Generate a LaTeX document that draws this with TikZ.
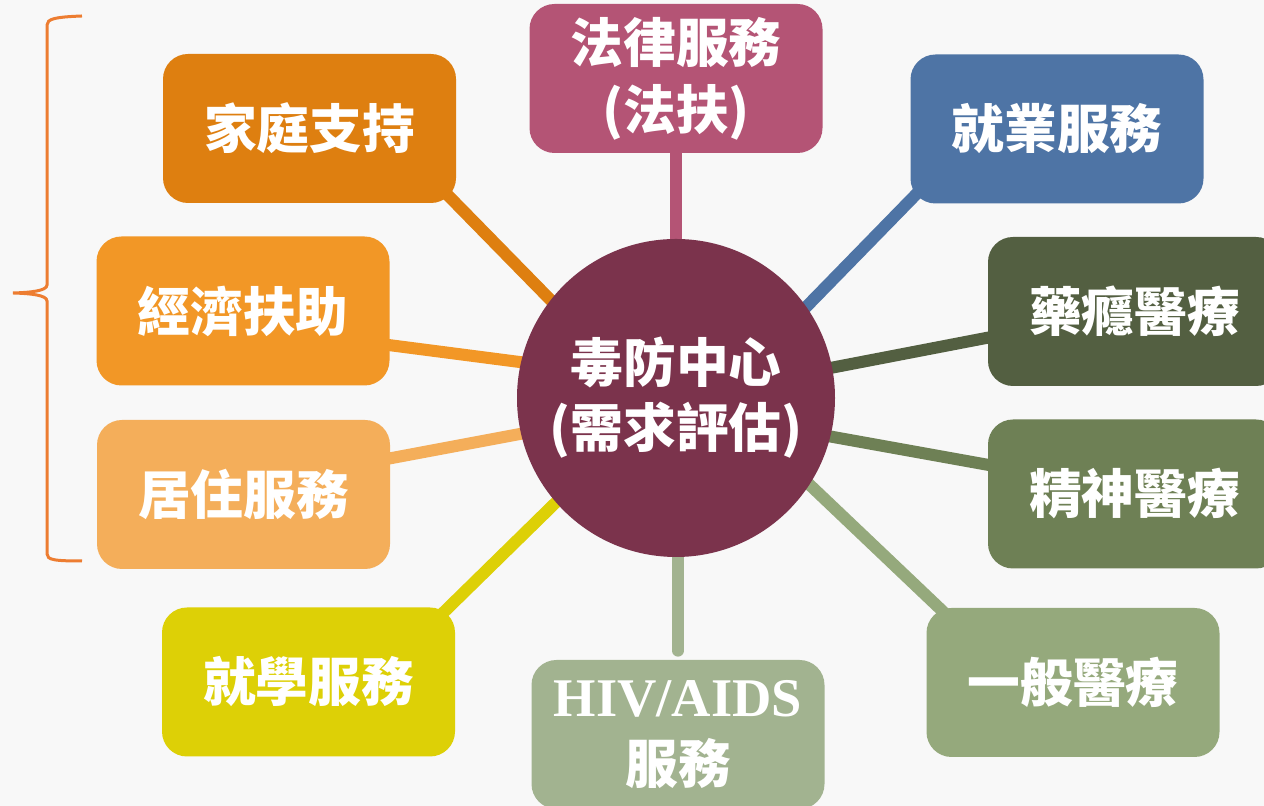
\documentclass[tikz,border=0pt]{standalone}
\usepackage{fontspec}
\setmainfont{Liberation Serif}
\newfontfamily\cjk{Noto Sans CJK TC}
\usepackage{tikz}
\usetikzlibrary{calc}
\definecolor{paper}{HTML}{F8F8F8}
\definecolor{famc}{HTML}{DE7F10}
\definecolor{finc}{HTML}{F29726}
\definecolor{housc}{HTML}{F4AE5A}
\definecolor{schc}{HTML}{DDD006}
\definecolor{legc}{HTML}{B45475}
\definecolor{empc}{HTML}{4E74A5}
\definecolor{addc}{HTML}{535F41}
\definecolor{psyc}{HTML}{6E8055}
\definecolor{genc}{HTML}{95A97C}
\definecolor{hivc}{HTML}{A2B390}
\definecolor{corec}{HTML}{7B334C}
\definecolor{bracec}{HTML}{ED7D31}
\pgfdeclarelayer{bg}
\pgfdeclarelayer{edges}
\pgfsetlayers{bg,edges,main}
\tikzstyle{block} = [rectangle, rounded corners=0.5cm, minimum width=5.86cm, minimum height=2.98cm, inner sep=0pt, align=center, text=white, font={\cjk\bfseries\fontsize{30}{38}\selectfont}]
\tikzstyle{core} = [circle, fill=corec, minimum size=6.36cm, inner sep=0pt, align=center, text=white, font={\cjk\bfseries\fontsize{30}{37}\selectfont}]
\tikzstyle{link} = [line width=0.24cm]

\begin{document}
\begin{tikzpicture}

    \useasboundingbox (0,0) rectangle (25.28,16.12);
    \begin{pgfonlayer}{bg}
        \fill[paper] (0,0) rectangle (25.28,16.12);
    \end{pgfonlayer}

    \node[core] (hub) at (13.52,8.16) {毒防中心\\(需求評估)};

    \node[block, fill=famc] (family) at (6.19,13.55) {家庭支持};
    \node[block, fill=finc] (finance) at (4.86,9.90) {經濟扶助};
    \node[block, fill=housc] (housing) at (4.87,6.23) {居住服務};
    \node[block, fill=schc] (school) at (6.17,2.48) {就學服務};
    \node[block, fill=legc] (legal) at (13.52,14.55) {法律服務\\(法扶)};
    \node[block, fill=empc] (employ) at (21.14,13.54) {就業服務};
    \node[block, fill=addc] (addict) at (22.69,9.89) {藥癮醫療};
    \node[block, fill=psyc] (psych) at (22.69,6.24) {精神醫療};
    \node[block, fill=genc] (general) at (21.46,2.47) {一般醫療};
    \node[block, fill=hivc] (hiv) at (13.56,1.43) {{\rmfamily\bfseries\fontsize{31}{36}\selectfont HIV/AIDS}\\服務};

    % spokes behind the boxes
    \begin{pgfonlayer}{edges}
        \draw[link, legc] (legal) -- (hub);
        \draw[link, hivc, line cap=round] (hiv.north |- hub) -- ($(hiv.north)+(0,0.18)$);
        \draw[link, famc, shorten >=-0.3cm] ($(family.south east)+(-0.5,0.5)$) -- (hub.142);
        \draw[link, finc, shorten >=-0.3cm] ($(finance.east)+(-0.8,-0.58)$) -- (hub.167);
        \draw[link, housc, shorten >=-0.3cm] ($(housing.east)+(-0.82,0.57)$) -- (hub.193);
        \draw[link, schc, shorten >=-0.3cm] ($(school.north east)+(-0.7,-0.56)$) -- (hub.221);
        \draw[link, empc, shorten >=-0.3cm] ($(employ.south west)+(0.48,0.56)$) -- (hub.35);
        \draw[link, addc, shorten >=-0.3cm] ($(addict.west)+(0.8,-0.37)$) -- (hub.11);
        \draw[link, psyc, shorten >=-0.3cm] ($(psych.west)+(0.8,0.44)$) -- (hub.346);
        \draw[link, genc, shorten >=-0.3cm] ($(general.north west)+(0.76,-0.48)$) -- (hub.327);
    \end{pgfonlayer}

    % brace on the left
    \draw[bracec, line width=0.06cm] (1.64,15.80) .. controls (1.1,15.78) and (0.94,15.74) .. (0.94,15.62)
        -- (0.94,10.42) .. controls (0.94,10.30) and (0.6,10.27) .. (0.26,10.26)
        .. controls (0.6,10.25) and (0.94,10.22) .. (0.94,10.10)
        -- (0.94,5.04) .. controls (0.94,4.92) and (1.1,4.90) .. (1.64,4.90);

\end{tikzpicture}
\end{document}
